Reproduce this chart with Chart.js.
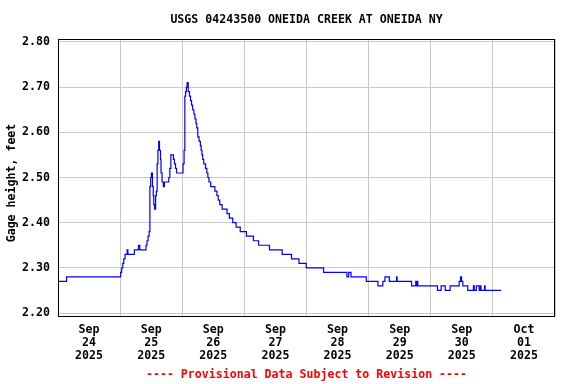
<!DOCTYPE html>
<html>
  <head>
    <meta charset="utf-8" />
    <script src="https://cdn.jsdelivr.net/npm/chart.js"></script>
    <style>
      body { margin: 0; background: #fff; }
      #wrap { width: 576px; height: 384px; }
    </style>
  </head>
  <body>
    <div id="wrap"><canvas id="gageChart" width="576" height="384"></canvas></div>
    <script>
      // hours after Sep 24 2025 00:00, value starts at that hour
      const hours = [
        0, 3.3, 24.2, 24.6, 25.0, 25.4, 25.9, 26.7, 27.0, 29.5,
        31.1, 31.6, 34.0, 34.4, 34.8, 35.2, 35.5, 35.8, 36.1, 36.5,
        36.8, 37.0, 37.3, 37.7, 38.0, 38.3, 38.6, 38.9, 39.2, 39.6,
        39.8, 40.2, 40.7, 41.1, 42.8, 43.2, 43.6, 44.6, 45.0, 45.4,
        45.8, 48.3, 48.7, 49.0, 49.3, 49.6, 49.9, 50.3, 50.8, 51.2,
        51.6, 52.0, 52.5, 52.9, 53.3, 53.6, 54.0, 54.5, 55.0, 55.3,
        55.6, 55.9, 56.3, 57.0, 57.5, 57.9, 58.3, 59.0, 60.6, 61.4,
        61.9, 62.5, 63.4, 65.3, 66.2, 67.5, 68.8, 70.4, 72.8, 75.5,
        77.5, 81.7, 86.6, 90.2, 93.1, 95.9, 102.6, 111.6, 112.3, 113.2,
        119.1, 123.6, 125.5, 126.3, 128.0, 130.8, 131.0, 136.6, 138.2, 138.5,
        138.8, 139.0, 146.6, 148.0, 149.6, 151.5, 155.0, 155.5, 155.9, 156.4,
        158.3, 160.5, 160.8, 161.6, 162.7, 163.2, 163.4, 164.8, 165.0, 171.2
      ];
      const gageFeet = [
        2.27, 2.28, 2.29, 2.30, 2.31, 2.32, 2.33, 2.34, 2.33, 2.34,
        2.35, 2.34, 2.35, 2.36, 2.37, 2.38, 2.48, 2.50, 2.51, 2.48,
        2.46, 2.44, 2.43, 2.46, 2.47, 2.53, 2.56, 2.58, 2.56, 2.54,
        2.51, 2.49, 2.48, 2.49, 2.50, 2.52, 2.55, 2.54, 2.53, 2.52,
        2.51, 2.53, 2.56, 2.68, 2.69, 2.70, 2.71, 2.69, 2.68, 2.67,
        2.66, 2.65, 2.64, 2.63, 2.62, 2.61, 2.59, 2.58, 2.57, 2.56,
        2.55, 2.54, 2.53, 2.52, 2.51, 2.50, 2.49, 2.48, 2.47, 2.46,
        2.45, 2.44, 2.43, 2.42, 2.41, 2.40, 2.39, 2.38, 2.37, 2.36,
        2.35, 2.34, 2.33, 2.32, 2.31, 2.30, 2.29, 2.28, 2.29, 2.28,
        2.27, 2.26, 2.27, 2.28, 2.27, 2.28, 2.27, 2.26, 2.27, 2.26,
        2.27, 2.26, 2.25, 2.26, 2.25, 2.26, 2.27, 2.28, 2.27, 2.26,
        2.25, 2.26, 2.25, 2.26, 2.25, 2.26, 2.25, 2.26, 2.25, 2.25
      ];
      const tickMonths = ["Sep", "Sep", "Sep", "Sep", "Sep", "Sep", "Sep", "Oct"];
      const tickDays = ["24", "25", "26", "27", "28", "29", "30", "01"];
      const tickYears = ["2025", "2025", "2025", "2025", "2025", "2025", "2025", "2025"];
      const yTicks = [2.2, 2.3, 2.4, 2.5, 2.6, 2.7, 2.8];

      const font = '"DejaVu Sans Mono", monospace';
      const gridColor = "#c8c8c8";

      const decorations = {
        id: "decorations",
        afterDraw(chart) {
          const { ctx, chartArea } = chart;
          const { left, top, right, bottom } = chartArea;
          ctx.save();
          ctx.strokeStyle = "#000";
          ctx.lineWidth = 1;
          ctx.strokeRect(left + 0.5, top + 0.5, right - left - 1, bottom - top);

          ctx.fillStyle = "#000";
          ctx.font = "bold 11.6px " + font;
          ctx.textAlign = "center";
          ctx.textBaseline = "middle";
          ctx.fillText("USGS 04243500 ONEIDA CREEK AT ONEIDA NY", (left + right) / 2, 20);

          ctx.fillStyle = "#ff0000";
          ctx.fillText("---- Provisional Data Subject to Revision ----", (left + right) / 2, 375);

          ctx.fillStyle = "#000";
          ctx.translate(12, 183);
          ctx.rotate(-Math.PI / 2);
          ctx.fillText("Gage height, feet", 0, 0);
          ctx.restore();
        },
      };

      new Chart(document.getElementById("gageChart"), {
        type: "line",
        data: {
          datasets: [
            {
              data: hours.map((h, i) => ({ x: h, y: gageFeet[i] })),
              borderColor: "#0000ff",
              borderWidth: 1.2,
              pointRadius: 0,
              stepped: "before",
              fill: false,
            },
          ],
        },
        options: {
          responsive: false,
          animation: false,
          layout: { padding: { top: 39, right: 21, left: 0, bottom: 0 } },
          plugins: { legend: { display: false }, tooltip: { enabled: false } },
          scales: {
            x: {
              type: "linear",
              min: 0,
              max: 192,
              border: { display: false },
              afterFit: (scale) => { scale.height = 68; },
              afterBuildTicks: (scale) => {
                scale.ticks = [];
                for (let h = 0; h <= 192; h += 12) scale.ticks.push({ value: h });
              },
              grid: {
                drawTicks: false,
                color: (c) => (c.tick && c.tick.value % 24 === 0 ? gridColor : "rgba(0,0,0,0)"),
              },
              ticks: {
                autoSkip: false,
                maxRotation: 0,
                padding: 7,
                color: "#000",
                font: { family: font, size: 11.6, weight: "bold", lineHeight: "13.2px" },
                callback: (v) => {
                  if (v % 24 !== 12) return "";
                  const i = (v - 12) / 24;
                  return [tickMonths[i], tickDays[i], tickYears[i]];
                },
              },
            },
            y: {
              min: 2.1934,
              max: 2.8066,
              border: { display: false },
              afterFit: (scale) => { scale.width = 58; },
              afterBuildTicks: (scale) => {
                scale.ticks = yTicks.map((v) => ({ value: v }));
              },
              grid: { drawTicks: false, color: gridColor },
              ticks: {
                padding: 8,
                color: "#000",
                font: { family: font, size: 11.6, weight: "bold" },
                callback: (v) => Number(v).toFixed(2),
              },
            },
          },
        },
        plugins: [decorations],
      });
    </script>
  </body>
</html>
